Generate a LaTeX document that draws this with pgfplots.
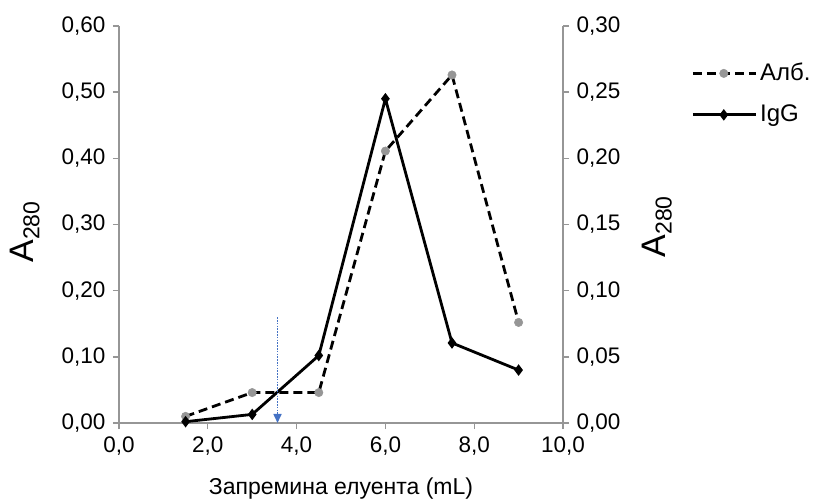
\documentclass[border=0pt]{standalone}
\usepackage{pgfplots}
\pgfplotsset{compat=1.18}
\usepackage{fontspec}
\setmainfont{Liberation Sans}
\usetikzlibrary{arrows.meta}
\definecolor{axgray}{RGB}{150,150,150}
\definecolor{ptgray}{RGB}{150,150,150}
\definecolor{arrblue}{RGB}{68,114,196}
\begin{document}
\fontsize{22bp}{26bp}\selectfont
\begin{tikzpicture}
\path[use as bounding box] (-119bp,-81bp) rectangle (699bp,423bp);
\pgfplotsset{
  common/.style={
    scale only axis, width=444bp, height=397bp,
    at={(0,0)}, anchor=south west,
    xmin=0, xmax=10,
    tick align=outside,
    major tick length=6bp,
    axis line style={axgray, line width=1.4bp},
    every tick/.style={axgray, line width=1.4bp},
    tick label style={font=\fontsize{22.5bp}{26bp}\selectfont, black},
    /pgf/number format/assume math mode=true,
    /pgf/number format/use comma,
    clip=false,
  }
}
\begin{axis}[common,
  axis x line*=bottom, axis y line*=left,
  ymin=0, ymax=0.6,
  ytick={0,0.1,...,0.61},
  xtick={0,2,4,6,8,10},
  xticklabel style={/pgf/number format/.cd, fixed, fixed zerofill, precision=1},
  yticklabel style={/pgf/number format/.cd, fixed, fixed zerofill, precision=2},
  xlabel={Запремина елуента (mL)},
  every axis x label/.style={at={(axis description cs:0.5,-0.181)}, anchor=base, font=\fontsize{23bp}{27bp}\selectfont},
  ylabel={{\fontsize{34bp}{40bp}\selectfont A}\raisebox{-6bp}{\fontsize{23bp}{26bp}\selectfont 280}},
  every axis y label/.style={at={(axis description cs:-0.212,0.481)}, rotate=90, anchor=center},
]
\addplot[black, line width=2.8bp, dash pattern=on 9bp off 5bp,
  mark=*, mark size=4.2bp, mark options={solid, fill=ptgray, draw=ptgray, line width=0.5bp}]
  coordinates {(1.5,0.010) (3,0.046) (4.5,0.046) (6,0.411) (7.5,0.526) (9,0.152)};
\end{axis}
\begin{axis}[common,
  axis x line=none, axis y line*=right,
  ymin=0, ymax=0.3,
  ytick={0,0.05,...,0.31},
  yticklabel style={/pgf/number format/.cd, fixed, fixed zerofill, precision=2},
  ylabel={{\fontsize{34bp}{40bp}\selectfont A}\raisebox{-6bp}{\fontsize{23bp}{26bp}\selectfont 280}},
  every axis y label/.style={at={(axis description cs:1.212,0.494)}, rotate=90, anchor=center},
  legend style={draw=none, fill=none, at={(axis description cs:1.282,0.915)}, anchor=north west,
    font=\fontsize{24bp}{28bp}\selectfont, row sep=19bp,
    nodes={inner sep=1bp}},
  legend cell align=left,
  legend image code/.code={\draw[mark repeat=2, mark phase=2, #1] plot coordinates {(0bp,0bp) (31bp,0bp) (63bp,0bp)};},
]
\addlegendimage{black, line width=2.8bp, dash pattern=on 9bp off 5bp,
  mark=*, mark size=4.2bp, mark options={solid, fill=ptgray, draw=ptgray, line width=0.5bp}}
\addlegendentry{\hspace{2bp}Алб.}
\addplot[black, line width=2.8bp, mark=diamond*, mark size=3.5bp, mark options={solid, fill=black}]
  coordinates {(1.5,0.001) (3,0.0065) (4.5,0.051) (6,0.245) (7.5,0.0605) (9,0.040)};
\addlegendentry{\hspace{2bp}IgG}
\addplot[arrblue, line width=1.6bp, dash pattern=on 1.6bp off 1.2bp, -{Triangle[length=9bp, width=8bp]}, forget plot]
  coordinates {(3.57,0.080) (3.57,0)};
\end{axis}
\end{tikzpicture}
\end{document}
